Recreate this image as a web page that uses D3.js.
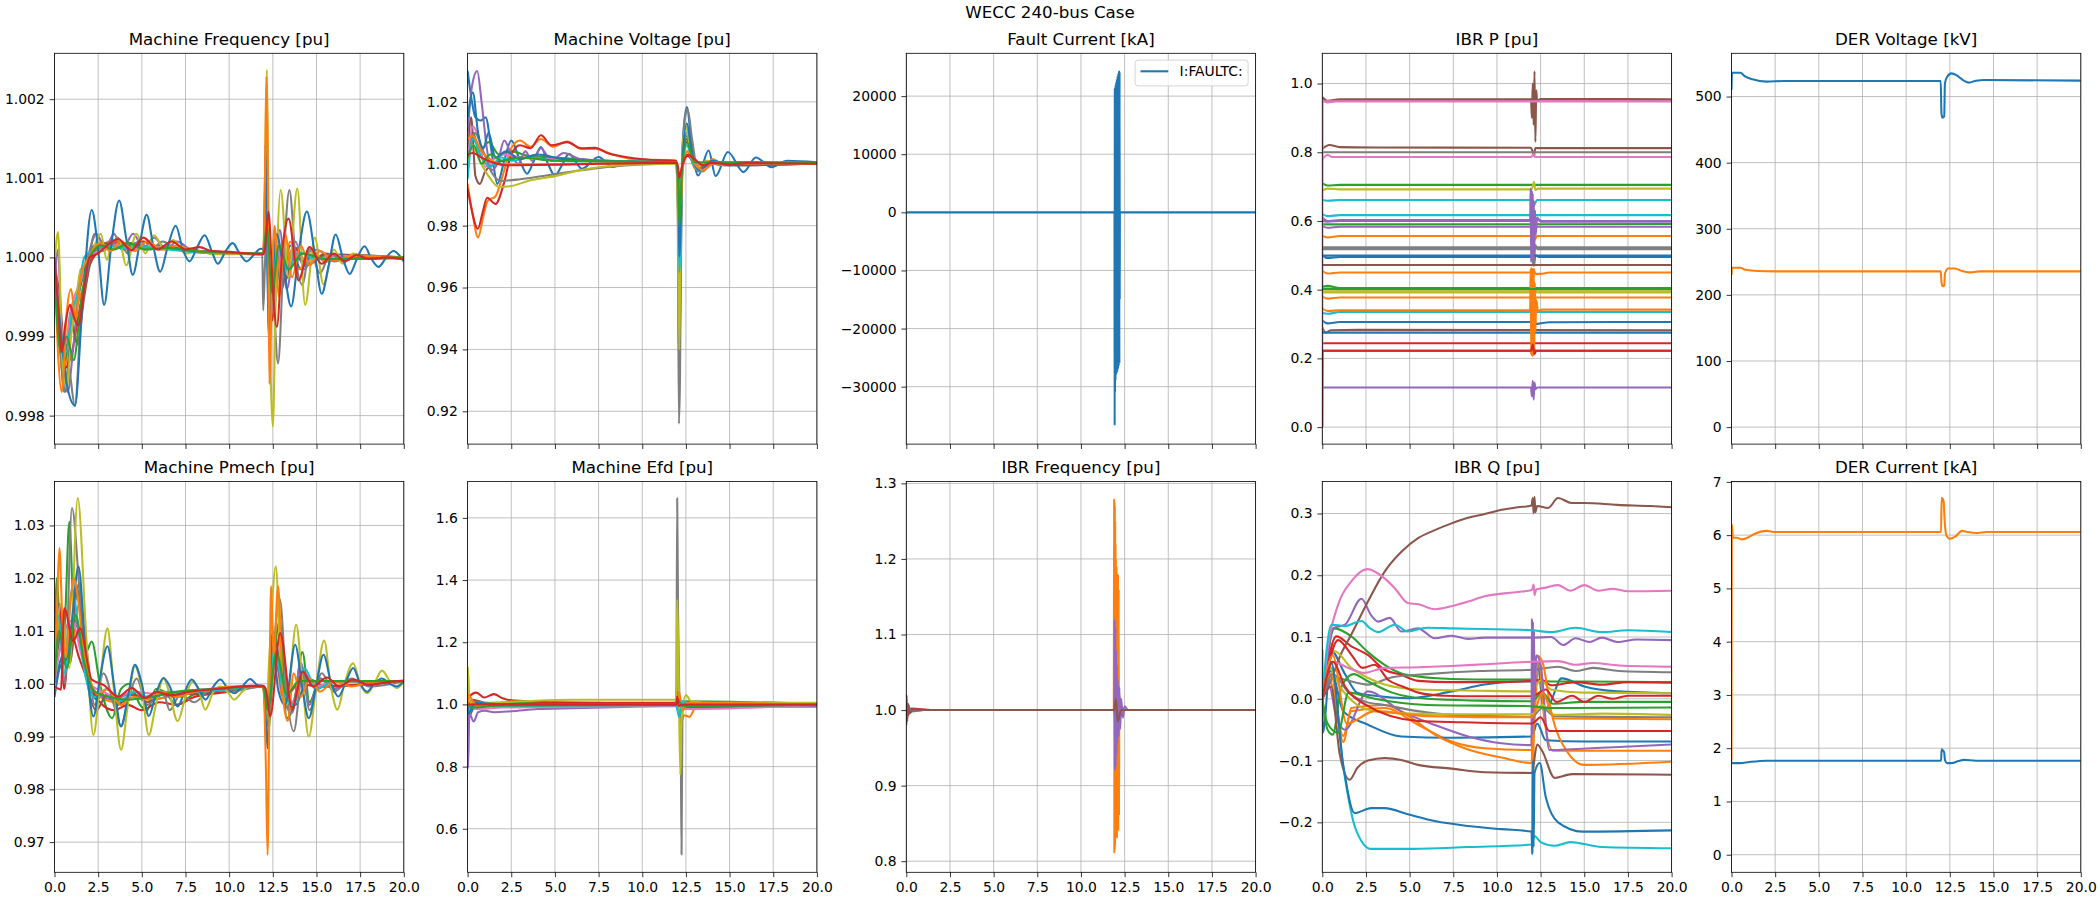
<!DOCTYPE html>
<html>
<head>
<meta charset="utf-8">
<script src="https://cdn.jsdelivr.net/npm/d3@7"></script>
<style>
  body { margin: 0; background: #fff; }
  svg { display: block; }
  text { font-family: "DejaVu Sans", sans-serif; fill: #000; }
</style>
</head>
<body>
<svg id="fig" width="2100" height="900"></svg>
<script>
// ---- data: every series is a list of [time s, value] pairs ----
const timeTicks = [0, 2.5, 5, 7.5, 10, 12.5, 15, 17.5, 20];

const machineFrequency = [
  [[0,0.99975],[0.3,0.99890],[0.6,0.99830],[0.9,0.99900],[1.3,0.99945],[1.8,0.99990],[2.3,1.00015],[2.8,1.00008],[3.3,1.00020],[3.9,1.00010],[4.5,1.00018],[5.2,1.00010],[6,1.00015],[7,1.00010],[8.5,1.00007],[10,1.00005],[11.95,1.00005],[12.1,1.00040],[12.3,0.99900],[12.6,1.00020],[13,0.99960],[13.5,1.00015],[14.1,0.99985],[14.8,1.00005],[15.5,0.99995],[17,1.00002],[20,1.00000]],
  [[0,1.00000],[0.25,0.99910],[0.5,0.99850],[0.8,0.99890],[1.2,0.99930],[1.6,0.99960],[2,0.99995],[2.6,1.00012],[3.4,1.00022],[4.2,1.00010],[5,1.00020],[6,1.00012],[7.2,1.00012],[9,1.00006],[11.95,1.00004],[12.1,1.00060],[12.35,0.99940],[12.6,1.00030],[13,0.99970],[13.5,1.00020],[14,0.99985],[14.7,1.00008],[15.5,0.99995],[17,1.00000],[20,0.99998]],
  [[0,1.00000],[0.3,0.99920],[0.6,0.99870],[0.9,0.99930],[1.3,0.99950],[1.7,0.99985],[2.3,1.00008],[3,1.00015],[3.8,1.00012],[4.6,1.00015],[5.5,1.00012],[6.5,1.00012],[8,1.00008],[10,1.00005],[11.95,1.00004],[12.15,1.00030],[12.4,0.99960],[12.7,1.00015],[13.1,0.99980],[13.6,1.00010],[14.3,0.99992],[15.5,1.00002],[20,1.00000]],
  [[0,1.00000],[0.3,0.99900],[0.6,0.99860],[1,0.99880],[1.4,0.99930],[2,0.99990],[2.8,1.00012],[3.5,1.00020],[4.3,1.00012],[5.1,1.00020],[6,1.00010],[7,1.00012],[9,1.00006],[11.95,1.00005],[12.15,1.00045],[12.45,0.99920],[12.8,1.00010],[13.3,0.99975],[13.8,1.00012],[14.5,0.99990],[15.5,1.00005],[17,0.99998],[20,1.00000]],
  [[0,0.99960],[0.2,1.00010],[0.45,0.99870],[0.75,0.99830],[1.05,0.99880],[1.4,0.99960],[1.9,1.00000],[2.4,1.00030],[2.9,1.00010],[3.4,1.00030],[3.9,1.00010],[4.5,1.00030],[5.1,1.00012],[5.7,1.00025],[6.4,1.00010],[7,1.00020],[8,1.00008],[9,1.00008],[10.5,1.00005],[11.95,1.00005],[12.1,1.00070],[12.3,0.99990],[12.55,0.99930],[12.9,1.00035],[13.3,0.99960],[13.8,1.00020],[14.3,0.99985],[15,1.00010],[16,0.99995],[17.5,1.00002],[20,0.99998]],
  [[0,0.99990],[0.3,0.99950],[0.6,0.99880],[0.95,0.99920],[1.3,0.99890],[1.7,0.99950],[2.2,1.00005],[2.8,1.00018],[3.5,1.00015],[4.3,1.00018],[5.2,1.00012],[6.3,1.00014],[8,1.00007],[10,1.00005],[11.95,1.00005],[12.1,1.00035],[12.4,0.99950],[12.75,1.00020],[13.2,0.99970],[13.7,1.00012],[14.4,0.99992],[15.5,1.00004],[20,1.00000]],
  [[0,1.00000],[0.3,0.99930],[0.6,0.99890],[1,0.99940],[1.5,0.99970],[2,1.00000],[2.7,1.00010],[3.5,1.00016],[4.5,1.00010],[5.5,1.00014],[7,1.00010],[9,1.00006],[11.95,1.00004],[12.1,1.00050],[12.35,0.99930],[12.7,1.00025],[13.1,0.99975],[13.6,1.00010],[14.5,0.99995],[16,1.00002],[20,1.00000]],
  [[0,0.99990],[0.3,0.99900],[0.55,0.99830],[0.8,0.99860],[1.17,0.99812],[1.5,0.99920],[1.9,0.99985],[2.3,1.00030],[2.7,1.00020],[3.1,1.00010],[3.6,1.00025],[4.2,1.00005],[4.8,1.00020],[5.5,1.00010],[6.2,1.00020],[7,1.00010],[8,1.00008],[9,1.00006],[10,1.00005],[11.9,1.00005],[11.95,0.99933],[12.05,0.99990],[12.15,1.00050],[12.3,0.99980],[12.5,0.99960],[12.8,0.99866],[13.1,0.99990],[13.45,1.00085],[13.8,1.00000],[14.2,0.99965],[14.6,1.00010],[15.2,0.99980],[15.8,1.00005],[16.5,0.99995],[17.5,1.00002],[20,1.00000]],
  [[0,0.99990],[0.2,1.00032],[0.45,0.99870],[0.7,0.99835],[0.95,0.99900],[1.2,0.99940],[1.5,0.99985],[1.8,0.99990],[2.2,1.00010],[2.65,1.00030],[3,0.99997],[3.3,1.00020],[3.7,1.00022],[4.1,0.99990],[4.7,1.00030],[5.2,1.00005],[5.7,1.00028],[6.3,1.00010],[6.8,1.00022],[7.5,1.00005],[8.3,1.00008],[9,1.00004],[11.95,1.00005],[12.05,1.00080],[12.16,1.00237],[12.25,1.00050],[12.38,0.99850],[12.5,0.99786],[12.65,0.99930],[12.95,1.00085],[13.4,0.99975],[13.9,1.00087],[14.35,0.99940],[14.9,1.00025],[15.4,0.99966],[16,1.00010],[16.5,0.99992],[17.1,1.00005],[18,0.99999],[20,1.00000]],
  [[0,0.99990],[0.3,0.99920],[0.65,0.99880],[1,0.99930],[1.4,0.99960],[1.7,1.00000],[2.3,1.00010],[3.1,1.00015],[4,1.00012],[5,1.00013],[6.5,1.00010],[8.5,1.00006],[11.95,1.00005],[12.1,1.00030],[12.4,0.99975],[12.8,1.00015],[13.3,0.99985],[14,1.00006],[15,0.99998],[20,1.00000]],
  [[0,0.99990],[0.3,0.99920],[0.7,0.99840],[1.17,0.99813],[1.6,0.99940],[2.13,1.00060],[2.5,1.00010],[2.84,0.99940],[3.25,1.00015],[3.7,1.00072],[4.1,1.00025],[4.48,0.99978],[4.9,1.00020],[5.28,1.00054],[5.65,1.00015],[6.05,0.99982],[6.5,1.00015],[6.94,1.00040],[7.35,1.00010],[7.73,0.99995],[8.15,1.00012],[8.6,1.00028],[9,1.00008],[9.35,0.99992],[9.8,1.00008],[10.2,1.00018],[10.6,1.00005],[11,0.99995],[11.4,1.00003],[11.8,1.00011],[12,1.00010],[12.08,1.00142],[12.15,1.00080],[12.3,0.99890],[12.45,0.99960],[12.7,1.00030],[13.1,0.99990],[13.55,0.99938],[14,1.00010],[14.45,1.00058],[14.9,1.00005],[15.3,0.99954],[15.7,0.99990],[16.1,1.00029],[16.5,1.00000],[16.9,0.99979],[17.35,1.00000],[17.75,1.00014],[18.15,0.99998],[18.55,0.99988],[19,1.00000],[19.4,1.00008],[20,0.99995]],
  [[0,1.00000],[0.2,0.99880],[0.42,0.99830],[0.7,0.99930],[0.95,0.99960],[1.2,0.99920],[1.5,0.99975],[2,1.00002],[2.6,1.00018],[3.2,1.00008],[3.8,1.00020],[4.6,1.00008],[5.3,1.00020],[6.2,1.00010],[7,1.00015],[8,1.00008],[9,1.00006],[10.5,1.00005],[11.95,1.00005],[12.05,1.00100],[12.13,1.00229],[12.22,1.00090],[12.3,0.99840],[12.45,0.99960],[12.6,1.00040],[12.85,0.99950],[13.2,1.00030],[13.6,0.99975],[14.1,1.00015],[14.6,0.99990],[15.2,1.00008],[16,0.99996],[17,1.00002],[20,1.00000]],
  [[0,0.99980],[0.35,0.99880],[0.7,0.99900],[1.1,0.99870],[1.5,0.99940],[2,1.00000],[2.7,1.00015],[3.4,1.00010],[4.2,1.00018],[5.2,1.00010],[6.5,1.00012],[8,1.00008],[10,1.00006],[11.95,1.00005],[12.15,1.00040],[12.45,0.99955],[12.85,1.00015],[13.4,0.99985],[14.2,1.00005],[15.5,0.99998],[20,1.00000]],
  [[0,1.00000],[0.2,0.99940],[0.41,0.99881],[0.65,0.99920],[0.89,0.99940],[1.1,0.99925],[1.37,0.99914],[1.7,0.99960],[2,1.00000],[2.5,1.00005],[3,1.00015],[3.66,1.00023],[4.4,1.00009],[5.09,1.00025],[5.9,1.00010],[6.71,1.00020],[7.5,1.00010],[8.3,1.00013],[9,1.00008],[10,1.00007],[11,1.00005],[11.95,1.00004],[12.05,1.00010],[12.25,1.00058],[12.5,0.99960],[12.73,0.99912],[13.05,1.00010],[13.4,1.00049],[13.97,0.99971],[14.6,1.00013],[15.3,0.99992],[16,1.00005],[16.6,0.99995],[17.3,1.00003],[18,0.99998],[19,1.00000],[20,0.99998]]
];

const machineVoltage = [
  [[0,1.0300],[0.25,1.0200],[0.45,1.0150],[0.75,1.0140],[1.03,1.0150],[1.4,1.0030],[1.7,0.9935],[2.1,1.0010],[2.5,1.0075],[3,1.0010],[3.4,0.9968],[3.8,1.0010],[4.2,1.0054],[4.6,1.0000],[5,0.9962],[5.4,0.9995],[5.8,1.0032],[6.55,0.9984],[7.5,1.0022],[8.3,0.9990],[9.2,1.0010],[10.5,1.0002],[11.95,1.0005],[12.05,0.9850],[12.1,0.9350],[12.17,0.9500],[12.3,1.0050],[12.55,1.0183],[12.85,1.0050],[13.2,0.9962],[13.8,1.0043],[14.2,0.9960],[14.9,1.0038],[15.8,0.9973],[16.5,1.0020],[17.4,0.9989],[18.3,1.0010],[20,1.0005]],
  [[0,0.9935],[0.25,0.9850],[0.6,0.9762],[0.9,0.9830],[1.15,0.9880],[1.6,0.9895],[2,0.9960],[2.5,1.0050],[3,1.0075],[3.6,1.0055],[4.2,1.0080],[4.9,1.0055],[5.7,1.0072],[6.5,1.0048],[7.3,1.0048],[8.3,1.0030],[9.5,1.0015],[11.95,1.0010],[12.08,0.9950],[12.13,0.9870],[12.3,0.9990],[12.55,1.0070],[13,0.9985],[13.5,0.9975],[14,1.0015],[14.7,0.9995],[15.5,1.0005],[20,1.0002]],
  [[0,1.0050],[0.3,1.0100],[0.7,1.0040],[1.2,1.0070],[1.8,1.0030],[2.5,1.0040],[3.5,1.0025],[5,1.0020],[7,1.0012],[9,1.0008],[11.95,1.0005],[12.08,0.9900],[12.12,0.9750],[12.3,1.0000],[12.55,1.0090],[12.9,1.0020],[13.5,0.9995],[14.5,1.0005],[20,1.0002]],
  [[0,0.9920],[0.2,0.9860],[0.59,0.9790],[0.85,0.9840],[1.12,0.9890],[1.6,0.9870],[2.07,0.9935],[2.5,1.0030],[3,1.0060],[3.6,1.0050],[4.2,1.0092],[4.8,1.0060],[5.7,1.0070],[6.5,1.0050],[7.3,1.0052],[8,1.0035],[8.8,1.0024],[10.4,1.0013],[11.95,1.0010],[12.05,0.9970],[12.12,0.9920],[12.3,0.9990],[12.6,1.0025],[13,1.0000],[13.4,0.9985],[14,1.0008],[14.7,0.9995],[15.5,1.0003],[20,1.0002]],
  [[0,1.0100],[0.25,1.0250],[0.55,1.0300],[0.8,1.0200],[1.1,1.0050],[1.4,0.9980],[1.7,1.0000],[2.1,1.0075],[2.5,1.0030],[2.9,1.0000],[3.3,1.0040],[3.7,1.0010],[4.2,1.0050],[4.8,1.0010],[5.5,1.0035],[6.5,1.0015],[8,1.0010],[10,1.0005],[11.95,1.0005],[12.05,0.9950],[12.12,0.9700],[12.3,1.0020],[12.55,1.0100],[12.9,1.0010],[13.4,0.9985],[14,1.0010],[15,0.9995],[16,1.0005],[20,1.0002]],
  [[0,0.9990],[0.2,1.0150],[0.45,0.9960],[0.7,0.9935],[1,0.9975],[1.4,0.9995],[2,1.0010],[3,1.0020],[4.5,1.0015],[6,1.0010],[8,1.0008],[10,1.0005],[11.95,1.0005],[12.08,0.9800],[12.12,0.9600],[12.3,1.0000],[12.55,1.0080],[12.9,1.0000],[13.4,0.9990],[14,1.0005],[15.5,0.9995],[20,1.0001]],
  [[0,1.0000],[0.3,1.0120],[0.65,1.0080],[1,0.9990],[1.5,1.0015],[2.2,1.0030],[3,1.0020],[4.5,1.0015],[6.5,1.0010],[9,1.0006],[11.95,1.0005],[12.06,0.9880],[12.12,0.9900],[12.3,1.0000],[12.6,1.0040],[13,1.0000],[14,1.0000],[20,1.0001]],
  [[0,1.0000],[0.4,1.0100],[0.9,1.0040],[1.4,0.9970],[1.9,0.9945],[3,0.9950],[4.5,0.9962],[6,0.9975],[8,0.9990],[10,0.9998],[11.95,1.0000],[12.03,0.9850],[12.1,0.9160],[12.16,0.9300],[12.25,0.9900],[12.45,1.0150],[12.6,1.0175],[12.85,1.0080],[13.2,0.9975],[13.6,1.0010],[14.5,0.9995],[20,1.0000]],
  [[0,1.0000],[0.3,1.0060],[0.7,1.0010],[1.2,0.9960],[1.8,0.9925],[2.5,0.9928],[3.5,0.9945],[5,0.9960],[6.5,0.9980],[8,0.9992],[9.5,0.9998],[11.95,1.0000],[12.05,0.9800],[12.12,0.9400],[12.18,0.9700],[12.3,1.0050],[12.5,1.0120],[12.8,1.0030],[13.2,0.9990],[13.7,1.0010],[14.5,0.9998],[20,1.0000]],
  [[0,0.9950],[0.3,1.0080],[0.8,1.0020],[1.3,0.9990],[1.9,1.0020],[2.6,1.0010],[3.5,1.0020],[5,1.0010],[7,1.0008],[11.95,1.0005],[12.08,0.9880],[12.12,0.9650],[12.3,0.9990],[12.55,1.0060],[12.9,1.0000],[13.4,0.9975],[14.2,1.0008],[15,0.9998],[20,1.0002]],
  [[0,1.0150],[0.3,1.0230],[0.6,1.0100],[0.9,1.0050],[1.2,1.0100],[1.6,1.0020],[2.2,1.0040],[3,1.0015],[4,1.0030],[5.5,1.0015],[8,1.0008],[11.95,1.0005],[12.08,0.9900],[12.12,0.9700],[12.3,1.0010],[12.55,1.0130],[12.9,1.0010],[13.3,0.9980],[14,1.0010],[15,0.9995],[20,1.0002]],
  [[0,1.0080],[0.3,1.0090],[0.8,1.0040],[1.4,1.0010],[2,0.9998],[4,0.9998],[7,1.0000],[10,1.0003],[11.95,1.0005],[12.05,0.9950],[12.1,0.9860],[12.2,0.9870],[12.35,1.0000],[12.6,1.0040],[13,1.0000],[13.5,0.9980],[14.2,1.0005],[16,1.0000],[20,1.0000]],
  [[0,1.0020],[0.35,1.0060],[0.8,1.0000],[1.3,1.0030],[2,1.0010],[3,1.0020],[5,1.0010],[8,1.0008],[11.95,1.0005],[12.08,0.9920],[12.12,0.9800],[12.3,1.0000],[12.55,1.0070],[13,1.0005],[20,1.0002]],
  [[0,1.0030],[0.3,1.0035],[0.8,1.0020],[1.5,1.0003],[2.2,0.9995],[4,0.9996],[6,0.9998],[8,1.0000],[10,1.0002],[11.95,1.0003],[12.05,0.9990],[12.12,0.9955],[12.25,0.9985],[12.6,1.0030],[13,1.0015],[13.5,0.9995],[14,1.0003],[15,0.9998],[16,1.0002],[20,1.0000]]
];

const faultCurrent = [
  [[0,0],[11.92,0],[11.93,-36700],[11.94,21300],[11.95,-31000],[11.96,21500],[11.975,-29000],[11.99,22000],[12.0,-28000],[12.02,22500],[12.04,-27800],[12.06,23000],[12.08,-27500],[12.1,23500],[12.12,-27000],[12.14,24000],[12.16,-26500],[12.18,24400],[12.2,-26000],[12.21,24200],[12.22,-15000],[12.23,0],[20,0]]
];
const faultLegend = ["I:FAULTC:"];

const ibrP = [
  [[0,0.500],[0.3,0.492],[1,0.495],[11.95,0.495],[12.05,0.520],[12.12,0.470],[12.2,0.500],[12.4,0.495],[20,0.495]],
  [[0,0.556],[0.3,0.552],[1,0.556],[11.95,0.556],[12.05,0.570],[12.15,0.545],[12.3,0.556],[20,0.556]],
  [[0,0.710],[0.3,0.703],[1,0.705],[20,0.705]],
  [[0,0.400],[0.3,0.403],[1,0.401],[11.95,0.401],[12.1,0.395],[12.3,0.401],[20,0.401]],
  [[0,0.610],[0.3,0.600],[1,0.603],[11.95,0.603],[12.3,0.605],[12.6,0.600],[20,0.600]],
  [[0,0.810],[0.4,0.821],[1,0.815],[3,0.814],[11.95,0.813],[12.05,0.800],[12.12,0.790],[12.2,0.812],[20,0.812]],
  [[0,0.780],[0.3,0.792],[0.6,0.786],[11.95,0.786],[12.1,0.795],[12.2,0.786],[20,0.786]],
  [[0,0.800],[20,0.800]],
  [[0,0.688],[0.3,0.694],[1,0.692],[11.95,0.692],[12.05,0.700],[12.12,0.714],[12.2,0.690],[12.35,0.694],[20,0.694]],
  [[0,0.661],[0.3,0.659],[1,0.661],[11.95,0.661],[12.05,0.640],[12.15,0.648],[12.3,0.661],[20,0.661]],
  [[0,0.310],[0.3,0.302],[1,0.306],[11.95,0.306],[12.1,0.320],[12.25,0.300],[12.5,0.302],[13,0.305],[20,0.306]],
  [[0,0.455],[0.3,0.447],[1,0.450],[11.95,0.450],[12.1,0.460],[12.2,0.446],[12.5,0.446],[13,0.450],[20,0.450]],
  [[0,0.590],[20,0.591]],
  [[0,0.244],[20,0.244]],
  [[0,0.585],[0.3,0.580],[1,0.583],[20,0.583]],
  [[0,0.290],[0.2,0.275],[0.5,0.282],[2,0.283],[20,0.282]],
  [[0,0.000],[0.02,0.950],[0.3,0.945],[1,0.950],[11.95,0.950],[12.1,0.955],[12.2,0.950],[20,0.950]],
  [[0,0.523],[20,0.523]],
  [[0,0.392],[20,0.392]],
  [[0,0.620],[0.3,0.614],[1,0.617],[20,0.617]],
  [[0,0.275],[20,0.275]],
  [[0,0.380],[0.3,0.374],[1,0.377],[20,0.377]],
  [[0,0.408],[0.3,0.411],[1,0.405],[20,0.405]],
  [[0,0.000],[0.02,0.222],[11.95,0.222],[12.05,0.210],[12.12,0.228],[12.2,0.222],[20,0.222]],
  [[0,0.115],[11.95,0.115],[12.0,0.090],[12.05,0.135],[12.1,0.080],[12.15,0.130],[12.2,0.110],[12.3,0.115],[20,0.115]],
  [[0,0.960],[0.3,0.950],[1,0.954],[11.95,0.954],[12.0,0.900],[12.05,1.000],[12.1,0.880],[12.15,1.036],[12.2,0.830],[12.25,0.980],[12.3,0.950],[12.5,0.955],[20,0.954]],
  [[0,0.948],[20,0.948]],
  [[0,0.518],[11.95,0.518],[12.1,0.470],[12.2,0.530],[12.3,0.518],[20,0.518]],
  [[0,0.395],[20,0.395]],
  [[0,0.332],[0.3,0.330],[1,0.335],[11.95,0.335],[12.2,0.350],[12.3,0.335],[20,0.335]],
  [[0,0.499],[20,0.499]],
  [[0,0.345],[0.3,0.338],[1,0.340],[11.9,0.340],[11.93,0.460],[11.96,0.210],[11.99,0.465],[12.02,0.205],[12.05,0.460],[12.08,0.210],[12.11,0.450],[12.14,0.220],[12.17,0.420],[12.2,0.280],[12.25,0.370],[12.35,0.338],[12.6,0.342],[20,0.342]],
  [[0,0.402],[20,0.402]],
  [[0,0.222],[11.95,0.222],[12.05,0.240],[12.15,0.212],[12.25,0.222],[20,0.222]],
  [[0,0.600],[0.3,0.598],[1,0.600],[11.9,0.600],[11.93,0.695],[11.96,0.480],[11.99,0.690],[12.02,0.485],[12.05,0.680],[12.08,0.490],[12.11,0.660],[12.14,0.510],[12.18,0.630],[12.22,0.560],[12.3,0.610],[12.5,0.598],[20,0.598]],
  [[0,0.472],[20,0.472]]
];

const derVoltage = [
  [[0,510],[0.03,536],[0.5,536],[0.8,530],[1.2,526],[2,522.5],[3,523.5],[11.98,523.5],[12.02,475],[12.08,468],[12.18,470],[12.22,520],[12.35,530],[12.6,535],[12.9,532],[13.3,524],[13.6,521],[14,524],[14.5,525],[20,524]],
  [[0,230],[0.03,241],[0.5,241],[0.8,238],[1.5,236],[2.5,235.5],[11.98,235.5],[12.02,220],[12.08,213],[12.18,214],[12.22,232],[12.4,240],[12.8,240],[13.2,236],[13.6,234],[14.2,235.5],[20,235.5]]
];

const machinePmech = [
  [[0,1.0000],[0.3,1.0040],[0.8,1.0080],[1.3,1.0110],[1.8,1.0030],[2.4,0.9970],[3,0.9990],[3.8,0.9965],[4.6,0.9985],[5.5,0.9970],[7,0.9980],[9,0.9988],[11.95,0.9995],[12.2,0.9930],[12.6,1.0080],[13.2,0.9980],[13.8,0.9960],[14.5,1.0010],[15.5,0.9995],[20,1.0005]],
  [[0,1.0000],[0.3,1.0120],[0.9,1.0050],[1.4,1.0150],[2,1.0010],[2.6,0.9975],[3.5,0.9965],[4.5,0.9980],[5.5,0.9970],[7,0.9980],[9,0.9990],[11.95,0.9995],[12.2,0.9930],[12.5,1.0100],[13,0.9980],[13.5,0.9955],[14.2,1.0020],[15,0.9995],[20,1.0005]],
  [[0,1.0000],[0.12,1.0200],[0.4,1.0060],[0.6,1.0120],[0.85,1.0307],[1.1,1.0150],[1.4,1.0190],[1.8,1.0060],[2.13,1.0080],[2.6,1.0000],[3.3,0.9935],[3.8,0.9990],[4.3,1.0000],[4.9,0.9960],[5.3,0.9950],[5.8,0.9990],[6.3,0.9985],[7,0.9960],[8,0.9980],[9,0.9985],[10,0.9990],[11.95,0.9995],[12.2,0.9900],[12.5,1.0020],[12.9,1.0121],[13.3,0.9935],[13.7,0.9960],[14.2,1.0060],[14.6,0.9965],[15.2,1.0010],[16,0.9990],[17,1.0005],[20,1.0005]],
  [[0,1.0000],[0.3,1.0150],[0.55,0.9990],[0.9,1.0100],[1.4,1.0050],[2,1.0000],[2.6,0.9965],[3.4,0.9950],[4.2,0.9960],[5,0.9950],[6,0.9965],[7,0.9960],[8,0.9975],[10,0.9985],[11.95,0.9995],[12.2,0.9940],[12.6,1.0050],[13.2,0.9975],[14,1.0000],[15,0.9995],[20,1.0005]],
  [[0,1.0000],[0.3,1.0150],[0.8,1.0060],[1.2,1.0120],[1.6,1.0050],[2.2,0.9990],[2.8,0.9975],[3.5,0.9970],[4.2,0.9980],[5,0.9975],[6,0.9980],[7,0.9975],[8,0.9985],[9.5,0.9990],[11.95,0.9995],[12.2,0.9960],[12.6,1.0060],[13.1,0.9975],[13.6,0.9945],[14.1,1.0040],[14.6,0.9960],[15.2,1.0010],[16,0.9990],[17,1.0005],[20,1.0005]],
  [[0,1.0000],[0.4,1.0100],[0.9,1.0040],[1.3,1.0180],[1.8,1.0020],[2.4,0.9950],[3,0.9980],[3.6,0.9960],[4.5,0.9980],[5.3,0.9965],[6.5,0.9985],[8,0.9980],[10,0.9990],[11.95,0.9995],[12.2,0.9940],[12.6,1.0080],[13.1,0.9990],[13.6,0.9950],[14.2,1.0020],[15,0.9990],[16,1.0005],[20,1.0005]],
  [[0,1.0000],[0.4,1.0080],[1,1.0120],[1.5,1.0060],[2,1.0000],[2.8,0.9985],[3.5,0.9975],[4.5,0.9985],[6,0.9980],[8,0.9988],[11.95,0.9995],[12.25,0.9970],[12.7,1.0050],[13.2,0.9990],[13.7,0.9965],[14.3,1.0020],[15,0.9995],[16,1.0005],[20,1.0005]],
  [[0,1.0000],[0.3,1.0100],[0.6,1.0000],[1,1.0333],[1.5,1.0150],[1.9,1.0050],[2.3,0.9960],[2.8,1.0020],[3.4,0.9960],[3.8,0.9920],[4.3,0.9980],[4.7,1.0010],[5.3,0.9960],[6.2,0.9985],[6.6,0.9950],[7.2,0.9980],[8,0.9965],[9,0.9990],[10,0.9985],[11.95,0.9995],[12.2,0.9920],[12.5,1.0050],[12.9,1.0160],[13.3,0.9980],[13.7,0.9910],[14.2,1.0020],[14.6,0.9950],[15.3,1.0020],[16,0.9985],[17,1.0010],[18,0.9995],[20,1.0005]],
  [[0,1.0000],[0.35,1.0150],[0.85,1.0030],[1.33,1.0352],[1.8,1.0100],[2.23,0.9903],[2.6,1.0000],[3.03,1.0105],[3.4,0.9990],[3.81,0.9875],[4.2,0.9960],[4.6,1.0033],[5,0.9990],[5.4,0.9903],[5.8,0.9960],[6.24,1.0010],[6.6,0.9980],[7.05,0.9929],[7.5,0.9975],[7.9,1.0004],[8.25,0.9990],[8.63,0.9951],[9.1,0.9985],[9.5,0.9995],[9.9,0.9985],[10.3,0.9970],[10.75,0.9985],[11.2,0.9995],[11.95,0.9995],[12.1,0.9930],[12.3,1.0050],[12.67,1.0222],[13,1.0000],[13.3,0.9960],[13.84,1.0112],[14.2,1.0000],[14.56,0.9900],[15,1.0000],[15.44,1.0082],[15.8,1.0000],[16.2,0.9951],[16.6,1.0000],[17.1,1.0039],[17.5,1.0000],[17.9,0.9982],[18.3,1.0000],[18.75,1.0025],[19.2,1.0005],[19.6,0.9992],[20,1.0005]],
  [[0,1.0000],[0.2,1.0130],[0.6,1.0020],[1,1.0180],[1.4,1.0100],[1.8,1.0010],[2.3,0.9975],[3,0.9990],[3.8,0.9968],[4.6,0.9985],[5.5,0.9972],[6.5,0.9985],[8,0.9985],[11.95,0.9995],[12.25,0.9950],[12.6,1.0070],[13.1,0.9985],[13.7,0.9960],[14.3,1.0030],[15,0.9990],[16,1.0005],[20,1.0005]],
  [[0,0.9975],[0.3,1.0030],[0.7,1.0050],[1,1.0120],[1.37,1.0222],[1.8,1.0050],[2.23,0.9938],[2.6,1.0010],[3.03,1.0071],[3.4,1.0000],[3.81,0.9919],[4.2,0.9975],[4.6,1.0036],[5,1.0000],[5.4,0.9939],[5.8,0.9980],[6.24,1.0011],[6.6,0.9995],[7.05,0.9957],[7.45,0.9985],[7.86,1.0008],[8.25,0.9990],[8.65,0.9970],[9.1,0.9995],[9.5,1.0008],[9.9,0.9992],[10.3,0.9982],[10.75,0.9995],[11.2,1.0009],[11.6,0.9998],[11.95,0.9995],[12.05,0.9960],[12.2,0.9878],[12.45,1.0093],[12.8,0.9990],[13.2,0.9960],[13.78,1.0074],[14.2,0.9990],[14.56,0.9935],[15,1.0000],[15.4,1.0055],[15.85,1.0000],[16.26,0.9976],[16.7,1.0005],[17.1,1.0030],[17.5,1.0000],[17.9,0.9985],[18.3,1.0000],[18.75,1.0010],[19.2,1.0000],[19.6,0.9995],[20,1.0005]],
  [[0,0.9990],[0.15,1.0150],[0.28,1.0257],[0.45,1.0120],[0.65,1.0050],[0.9,1.0150],[1.1,1.0200],[1.35,1.0160],[1.6,1.0080],[2,1.0010],[2.5,0.9980],[3,0.9990],[3.8,0.9960],[4.5,0.9975],[5.3,0.9970],[6.2,0.9985],[7,0.9975],[8,0.9985],[9,0.9990],[10,0.9995],[11.95,0.9995],[12.1,0.9850],[12.2,0.9676],[12.3,0.9950],[12.4,1.0185],[12.55,1.0050],[12.8,1.0185],[13.1,0.9970],[13.35,0.9930],[13.7,1.0020],[14.1,0.9975],[14.6,1.0010],[15.2,0.9985],[16,1.0005],[17,0.9995],[18,1.0002],[20,1.0005]],
  [[0,1.0000],[0.25,1.0100],[0.7,1.0030],[1.2,1.0130],[1.7,1.0040],[2.3,0.9985],[3.2,0.9975],[4.2,0.9970],[5.5,0.9975],[7,0.9985],[9,0.9990],[11.95,0.9995],[12.2,0.9950],[12.7,1.0060],[13.3,0.9980],[14,1.0005],[20,1.0005]],
  [[0,0.9995],[0.37,0.9989],[0.56,1.0143],[1.08,1.0081],[1.46,1.0105],[2.13,1.0008],[2.8,0.9998],[3.66,0.9976],[4.42,0.9992],[5.18,0.9973],[5.86,0.9985],[6.62,0.9978],[7.76,0.9985],[9.3,0.9990],[11.2,0.9996],[11.95,0.9996],[12.1,0.9990],[12.35,0.9938],[12.92,1.0096],[13.6,0.9954],[14.22,1.0023],[14.8,0.9995],[15.6,1.0012],[16.3,0.9995],[17.1,1.0008],[18,0.9998],[19,1.0003],[20,1.0006]]
];

const machineEfd = [
  [[0,1.0000],[0.02,1.1000],[0.08,0.9600],[0.3,0.9850],[0.7,1.0000],[1.2,0.9950],[3,0.9980],[11.95,0.9990],[12.1,0.9700],[12.3,1.0100],[12.7,1.0000],[13.5,0.9960],[14.5,1.0000],[20,1.0000]],
  [[0,1.0000],[0.03,0.9500],[0.3,1.0100],[1,0.9950],[5,0.9980],[11.95,1.0000],[12.0,1.0850],[12.1,1.0000],[12.2,0.9400],[12.4,0.9650],[12.7,0.9600],[13.1,0.9950],[14,1.0000],[20,1.0000]],
  [[0,1.0000],[0.3,1.0100],[1,1.0000],[3,1.0050],[8,1.0030],[11.95,1.0030],[12.05,1.0400],[12.2,0.9700],[12.5,1.0100],[20,1.0020]],
  [[0,1.0000],[0.1,1.0250],[0.5,1.0380],[0.95,1.0220],[1.5,1.0330],[2,1.0200],[2.5,1.0130],[3.2,1.0110],[5,1.0070],[8,1.0055],[11.95,1.0050],[12.0,1.0260],[12.1,1.0000],[12.2,0.9900],[12.4,1.0050],[20,1.0020]],
  [[0,1.0000],[0.03,0.7950],[0.1,0.9700],[0.35,0.9450],[0.6,0.9750],[1,0.9800],[1.5,0.9750],[2.5,0.9780],[4,0.9850],[6,0.9880],[9,0.9920],[11.95,0.9950],[12.05,0.9800],[12.2,1.0100],[12.5,0.9900],[13.5,0.9920],[20,0.9930]],
  [[0,1.0000],[0.3,1.0150],[1,1.0050],[3,1.0000],[11.95,1.0000],[12.1,1.0200],[12.3,0.9900],[20,1.0000]],
  [[0,1.0000],[0.5,0.9850],[2,0.9900],[11.95,0.9960],[12.1,1.0300],[12.3,0.9850],[20,0.9980]],
  [[0,1.0000],[0.05,0.9900],[0.5,0.9950],[2,0.9970],[5,0.9980],[11.95,0.9990],[12.0,1.6630],[12.05,1.3000],[12.12,1.0500],[12.2,0.9000],[12.25,0.5170],[12.3,0.9800],[12.5,1.0050],[13,0.9980],[14,0.9990],[20,0.9990]],
  [[0,1.0000],[0.02,1.1200],[0.1,1.0100],[0.5,1.0050],[3,1.0100],[6,1.0150],[11.95,1.0150],[12.0,1.3370],[12.08,1.1000],[12.18,0.7740],[12.25,0.9500],[12.5,1.0300],[12.8,1.0100],[14,1.0050],[20,1.0050]],
  [[0,1.0000],[0.3,0.9900],[1,0.9950],[11.95,0.9980],[12.1,0.9600],[12.3,1.0100],[13,0.9980],[20,0.9990]],
  [[0,1.0000],[0.05,0.9700],[0.4,1.0050],[2,1.0000],[11.95,1.0000],[12.1,1.0150],[12.3,0.9950],[20,1.0000]],
  [[0,1.0000],[0.05,1.0300],[0.5,0.9950],[2,0.9980],[11.95,0.9990],[12.1,1.0400],[12.3,0.9800],[12.6,1.0050],[20,1.0000]],
  [[0,1.0000],[0.3,0.9900],[2,0.9970],[11.95,0.9980],[12.1,1.0100],[12.3,0.9950],[20,0.9980]],
  [[0,1.0000],[11.95,1.0000],[12.0,1.0250],[12.1,0.9950],[12.3,1.0000],[20,1.0000]]
];

const ibrFrequency = [
  [[0,1.0000],[0.05,0.9950],[0.3,1.0010],[1,1.0000],[11.9,1.0000],[12.0,1.0200],[12.05,0.9800],[12.1,1.0100],[12.2,0.9950],[12.4,1.0000],[20,1.0000]],
  [[0,1.0000],[0.05,1.0050],[0.2,0.9990],[0.5,1.0000],[11.88,1.0000],[11.9,1.2800],[11.91,0.8100],[11.92,1.2750],[11.93,0.8150],[11.94,1.2700],[11.95,0.8200],[11.96,1.2500],[11.97,0.8300],[11.98,1.2200],[11.99,0.8350],[12.0,1.2000],[12.02,0.8400],[12.04,1.1900],[12.06,0.8300],[12.08,1.1800],[12.1,0.8400],[12.12,1.1800],[12.14,0.8400],[12.16,1.1600],[12.18,0.8600],[12.2,1.0200],[12.25,0.9900],[12.3,1.0050],[12.5,1.0000],[20,1.0000]],
  [[0,1.0000],[0.05,1.0080],[0.3,0.9980],[1,1.0000],[11.9,1.0000],[12.0,0.9800],[12.05,1.0200],[12.1,0.9900],[12.3,1.0000],[20,1.0000]],
  [[0,1.0000],[0.05,0.9920],[0.3,1.0020],[1.5,1.0000],[11.9,1.0000],[12.0,1.0300],[12.05,0.9700],[12.1,1.0200],[12.2,0.9900],[12.4,1.0000],[20,1.0000]],
  [[0,1.0000],[0.05,1.0040],[0.3,0.9990],[1,1.0000],[11.9,1.0000],[11.93,1.1200],[11.95,0.9200],[11.97,1.1100],[11.99,0.9250],[12.01,1.0800],[12.03,0.9400],[12.05,1.0600],[12.08,0.9550],[12.11,1.0400],[12.15,0.9650],[12.2,1.0300],[12.25,0.9750],[12.3,1.0150],[12.4,0.9900],[12.5,1.0050],[12.7,1.0000],[20,1.0000]],
  [[0,0.9800],[0.02,1.0200],[0.05,0.9850],[0.1,1.0080],[0.2,0.9960],[0.4,1.0010],[1,1.0000],[11.9,1.0000],[12.0,1.0150],[12.1,0.9850],[12.3,1.0000],[20,1.0000]]
];

const ibrQ = [
  [[0,0.080],[0.03,-0.055],[0.52,0.077],[1.3,0.040],[2,0.010],[3,0.005],[4.9,0.001],[7.4,0.012],[9.3,0.023],[11.2,0.028],[12,0.028],[12.3,0.060],[12.7,-0.020],[13,-0.010],[13.7,0.033],[15,0.020],[16.9,0.012],[20,0.009]],
  [[0,0.000],[0.4,0.030],[1.2,-0.060],[1.66,-0.020],[3.57,-0.015],[5.48,-0.042],[7.4,-0.069],[9.3,-0.080],[12,-0.083],[12.4,0.060],[12.7,-0.030],[13.2,-0.084],[20,-0.084]],
  [[0,0.000],[0.7,0.114],[1.66,0.101],[2.6,0.076],[3.57,0.055],[4.53,0.041],[5.48,0.036],[7.4,0.032],[10,0.031],[12,0.031],[13.1,0.028],[15,0.028],[20,0.027]],
  [[0,0.000],[0.8,0.101],[1.66,0.085],[2.6,0.071],[3.57,0.047],[4.5,0.039],[5.48,0.029],[7.4,0.027],[10,0.027],[12,0.029],[12.6,0.030],[13.1,0.022],[14.5,0.027],[16,0.023],[17.5,0.027],[20,0.026]],
  [[0,0.000],[0.3,0.070],[0.61,0.114],[1.3,0.120],[2.24,0.162],[2.8,0.135],[3.19,0.125],[3.86,0.131],[4.53,0.109],[5.48,0.114],[6.44,0.098],[7.4,0.102],[8.35,0.097],[9.3,0.099],[11.2,0.099],[12,0.099],[13.1,0.100],[13.8,0.087],[14.5,0.098],[15.3,0.092],[16,0.099],[16.9,0.092],[18,0.096],[20,0.095]],
  [[0,0.000],[0.5,0.030],[1,0.068],[1.66,0.104],[2.62,0.158],[3.57,0.206],[4.53,0.238],[5.48,0.260],[6.44,0.273],[7.4,0.284],[8.35,0.293],[9.3,0.299],[10.26,0.306],[11.2,0.310],[11.98,0.313],[12.05,0.325],[12.1,0.300],[12.15,0.327],[12.2,0.302],[12.3,0.312],[12.93,0.309],[13.5,0.325],[14.27,0.317],[15,0.317],[16.9,0.314],[18.8,0.312],[20,0.310]],
  [[0,0.000],[0.3,0.080],[0.9,0.152],[1.66,0.190],[2.58,0.210],[3.57,0.195],[4.15,0.179],[4.9,0.155],[5.5,0.153],[6.44,0.145],[7.4,0.150],[8.3,0.157],[9.3,0.166],[11.2,0.173],[12,0.176],[12.1,0.185],[12.15,0.168],[12.25,0.177],[12.8,0.180],[13.5,0.184],[14.2,0.175],[15,0.184],[15.8,0.175],[16.6,0.178],[17.5,0.174],[20,0.175]],
  [[0,0.000],[0.7,0.035],[1.4,0.030],[2.6,0.023],[4,0.035],[6,0.040],[9,0.045],[12,0.047],[13.5,0.052],[14.5,0.045],[15.5,0.050],[17,0.045],[20,0.043]],
  [[0,0.000],[0.7,0.077],[1.66,0.050],[2.6,0.034],[3.57,0.023],[5.48,0.015],[9,0.013],[12,0.012],[12.5,0.030],[13.1,0.015],[15,0.010],[20,0.009]],
  [[0,0.000],[0.5,0.050],[1.2,-0.110],[1.9,-0.210],[2.8,-0.243],[5.2,-0.243],[8.35,-0.240],[12,-0.236],[12.15,-0.222],[12.5,-0.232],[13.3,-0.238],[14.2,-0.232],[16,-0.240],[20,-0.242]],
  [[0,0.000],[0.5,0.045],[1.2,-0.020],[2.62,-0.042],[4.53,-0.061],[7.4,-0.063],[12,-0.061],[12.3,-0.040],[12.8,-0.067],[15,-0.069],[20,-0.069]],
  [[0,0.000],[0.5,0.040],[1.2,-0.070],[1.66,-0.015],[3.57,-0.010],[5.1,-0.031],[6.44,-0.058],[8.35,-0.082],[10.26,-0.095],[12,-0.104],[12.02,0.060],[12.04,-0.250],[12.06,0.050],[12.08,-0.200],[12.12,0.060],[12.3,0.070],[12.6,0.060],[13.1,-0.020],[14,-0.085],[15,-0.107],[20,-0.102]],
  [[0,0.000],[0.3,-0.050],[0.6,-0.058],[1.1,0.020],[1.8,0.040],[2.5,0.030],[4,0.010],[6,0.000],[9,-0.003],[12,-0.004],[12.6,0.010],[13.2,-0.008],[15,-0.005],[20,-0.005]],
  [[0,0.000],[0.9,0.095],[1.7,0.070],[2.3,0.050],[3,0.055],[3.8,0.030],[4.6,0.020],[5.5,0.010],[7,0.005],[9,0.004],[12,0.004],[12.8,0.015],[13.4,-0.005],[14.3,0.005],[15,-0.005],[15.8,0.005],[16.6,0.000],[17.5,0.005],[20,0.005]],
  [[0,0.000],[0.4,0.020],[0.8,-0.030],[1.3,-0.050],[2.6,0.012],[4.5,-0.020],[6.4,-0.042],[8.35,-0.061],[10.26,-0.072],[11.98,-0.075],[12.0,0.130],[12.03,-0.058],[12.06,0.125],[12.09,-0.040],[12.12,0.110],[12.16,0.000],[12.25,0.070],[12.5,0.055],[13,-0.083],[14,-0.082],[17,-0.078],[20,-0.074]],
  [[0,0.000],[0.5,0.020],[1,-0.090],[1.57,-0.131],[2,-0.112],[2.62,-0.100],[3.57,-0.096],[4.53,-0.099],[5.48,-0.107],[7.4,-0.113],[9.3,-0.119],[12,-0.120],[12.3,-0.074],[12.6,-0.085],[13.3,-0.128],[14.3,-0.122],[20,-0.123]],
  [[0,0.000],[0.6,0.060],[1.5,0.050],[2.4,0.042],[3.57,0.050],[5.5,0.051],[7.4,0.053],[9.3,0.056],[12,0.060],[13.5,0.061],[14.5,0.055],[15.5,0.058],[17,0.054],[20,0.052]],
  [[0,0.000],[0.6,0.040],[1.5,0.010],[2.5,-0.005],[3.57,-0.010],[5.48,-0.020],[7.4,-0.026],[12,-0.029],[12.6,-0.015],[13.3,-0.028],[20,-0.030]],
  [[0,0.000],[0.4,0.050],[1,0.020],[2,-0.010],[3,-0.020],[5,-0.024],[8,-0.025],[12,-0.025],[12.6,-0.010],[13.3,-0.026],[16,-0.024],[20,-0.026]],
  [[0,0.000],[0.52,0.120],[1.3,0.118],[2.24,0.126],[2.7,0.115],[3.19,0.108],[4.15,0.120],[4.9,0.109],[6,0.115],[7.5,0.114],[9.3,0.113],[12,0.111],[13.1,0.108],[14.5,0.115],[16,0.108],[17.5,0.111],[20,0.108]],
  [[0,0.000],[0.5,0.060],[1.2,-0.107],[1.85,-0.185],[2.8,-0.177],[3.57,-0.177],[4.9,-0.187],[6.44,-0.198],[8.35,-0.206],[10.26,-0.211],[11.98,-0.215],[12.02,-0.252],[12.06,-0.100],[12.1,-0.240],[12.15,-0.120],[12.45,-0.104],[12.8,-0.160],[13.5,-0.200],[14.9,-0.215],[20,-0.213]],
  [[0,0.000],[0.6,0.070],[1.4,-0.040],[3,-0.020],[6,-0.028],[12,-0.030],[12.6,0.010],[13.3,-0.032],[20,-0.033]],
  [[0,0.000],[0.3,-0.040],[0.9,-0.055],[1.5,0.010],[3,0.000],[6,-0.010],[12,-0.012],[13,-0.015],[20,-0.014]],
  [[0,0.000],[0.6,0.060],[1.3,0.020],[2.5,-0.010],[5.48,-0.036],[8,-0.038],[12,-0.040],[12.5,-0.030],[13,-0.052],[20,-0.052]]
];

const derCurrent = [
  [[0,1.72],[0.5,1.72],[1,1.74],[2,1.765],[12,1.765],[12.03,1.98],[12.1,1.96],[12.18,1.92],[12.22,1.78],[12.35,1.72],[12.6,1.72],[13,1.76],[13.3,1.78],[14,1.765],[20,1.765]],
  [[0,1.75],[0.02,6.2],[0.08,5.95],[0.3,5.95],[0.6,5.92],[0.9,5.95],[1.3,6.02],[2,6.08],[2.5,6.06],[12,6.06],[12.03,6.7],[12.1,6.68],[12.15,6.62],[12.2,6.3],[12.3,6.0],[12.5,5.93],[12.8,5.97],[13.2,6.08],[13.5,6.06],[14,6.04],[14.6,6.06],[20,6.06]]
];

// ---- figure ----
(function () {
  const tab10 = ["#1f77b4", "#ff7f0e", "#2ca02c", "#d62728", "#9467bd",
    "#8c564b", "#e377c2", "#7f7f7f", "#bcbd22", "#17becf"];

  const colLeft = [54.5, 467.6, 906.3, 1322.3, 1731.5];
  const rowTop = [53.3, 481.5];
  const pw = 349.3, ph = 390.8;

  const panels = [
    { title: "Machine Frequency [pu]", data: machineFrequency, lim: [0.99764, 1.00258], ticks: [0.998, 0.999, 1.000, 1.001, 1.002], fmt: ".3f" },
    { title: "Machine Voltage [pu]", data: machineVoltage, lim: [0.9094, 1.0357], ticks: [0.92, 0.94, 0.96, 0.98, 1.00, 1.02], fmt: ".2f" },
    { title: "Fault Current [kA]", data: faultCurrent, lim: [-39880, 27367], ticks: [-30000, -20000, -10000, 0, 10000, 20000], fmt: "d", legend: faultLegend },
    { title: "IBR P [pu]", data: ibrP, lim: [-0.0495, 1.088], ticks: [0, 0.2, 0.4, 0.6, 0.8, 1.0], fmt: ".1f" },
    { title: "DER Voltage [kV]", data: derVoltage, lim: [-25.7, 565.4], ticks: [0, 100, 200, 300, 400, 500], fmt: "d" },
    { title: "Machine Pmech [pu]", data: machinePmech, lim: [0.96428, 1.03833], ticks: [0.97, 0.98, 0.99, 1.00, 1.01, 1.02, 1.03], fmt: ".2f" },
    { title: "Machine Efd [pu]", data: machineEfd, lim: [0.460, 1.717], ticks: [0.6, 0.8, 1.0, 1.2, 1.4, 1.6], fmt: ".1f" },
    { title: "IBR Frequency [pu]", data: ibrFrequency, lim: [0.7853, 1.3025], ticks: [0.8, 0.9, 1.0, 1.1, 1.2, 1.3], fmt: ".1f" },
    { title: "IBR Q [pu]", data: ibrQ, lim: [-0.2809, 0.3518], ticks: [-0.2, -0.1, 0, 0.1, 0.2, 0.3], fmt: ".1f" },
    { title: "DER Current [kA]", data: derCurrent, lim: [-0.33, 7.007], ticks: [0, 1, 2, 3, 4, 5, 6, 7], fmt: "d" }
  ];

  const svg = d3.select("#fig");
  svg.append("rect").attr("width", 2100).attr("height", 900).attr("fill", "#fff");

  svg.append("text")
    .attr("x", 1050).attr("y", 18)
    .attr("text-anchor", "middle")
    .attr("font-size", "16.7px")
    .text("WECC 240-bus Case");

  panels.forEach((p, i) => {
    const row = Math.floor(i / 5), col = i % 5;
    const g = svg.append("g")
      .attr("transform", `translate(${colLeft[col]},${rowTop[row]})`);

    const x = d3.scaleLinear().domain([0, 20]).range([0, pw]);
    const y = d3.scaleLinear().domain(p.lim).range([ph, 0]);

    // grid
    g.append("g").selectAll("line").data(timeTicks).join("line")
      .attr("x1", (d) => x(d)).attr("x2", (d) => x(d))
      .attr("y1", 0).attr("y2", ph)
      .attr("stroke", "#b0b0b0").attr("stroke-width", 0.8);
    g.append("g").selectAll("line").data(p.ticks).join("line")
      .attr("x1", 0).attr("x2", pw)
      .attr("y1", (d) => y(d)).attr("y2", (d) => y(d))
      .attr("stroke", "#b0b0b0").attr("stroke-width", 0.8);

    // lines
    g.append("clipPath").attr("id", "clip" + i)
      .append("rect").attr("width", pw).attr("height", ph);
    const line = d3.line()
      .x((d) => x(d[0]))
      .y((d) => y(d[1]))
      .curve(d3.curveMonotoneX);
    g.append("g").attr("clip-path", `url(#clip${i})`)
      .selectAll("path").data(p.data).join("path")
      .attr("d", line)
      .attr("fill", "none")
      .attr("stroke", (d, j) => tab10[j % 10])
      .attr("stroke-width", 2.08)
      .attr("stroke-linejoin", "round");

    // axes
    const yAxis = d3.axisLeft(y).tickValues(p.ticks)
      .tickFormat(d3.format(p.fmt)).tickSize(4.9).tickPadding(4.9);
    const xAxis = d3.axisBottom(x).tickValues(timeTicks)
      .tickFormat(row === 1 ? d3.format(".1f") : () => "")
      .tickSize(4.9).tickPadding(4.9);
    [g.append("g").call(yAxis),
     g.append("g").attr("transform", `translate(0,${ph})`).call(xAxis)]
      .forEach((a) => {
        a.select(".domain").remove();
        a.selectAll(".tick line").attr("stroke", "#000").attr("stroke-width", 0.8);
        a.selectAll(".tick text").attr("font-size", "13.9px")
          .attr("font-family", "DejaVu Sans").attr("fill", "#000");
      });

    g.append("rect").attr("width", pw).attr("height", ph)
      .attr("fill", "none").attr("stroke", "#000").attr("stroke-width", 0.8);

    g.append("text")
      .attr("x", pw / 2).attr("y", -8.5)
      .attr("text-anchor", "middle")
      .attr("font-size", "16.7px")
      .text(p.title);

    if (p.legend) {
      const lg = g.append("g").attr("transform", `translate(${pw - 120.5},${6.8})`);
      lg.append("rect").attr("width", 113).attr("height", 25.8).attr("rx", 3)
        .attr("fill", "#fff").attr("fill-opacity", 0.8)
        .attr("stroke", "#cccccc").attr("stroke-width", 0.8);
      lg.append("line").attr("x1", 5.4).attr("x2", 33.2)
        .attr("y1", 11.2).attr("y2", 11.2)
        .attr("stroke", tab10[0]).attr("stroke-width", 2.08);
      lg.append("text").attr("x", 44.5).attr("y", 16.2)
        .attr("font-size", "13.9px").text(p.legend[0]);
    }
  });
})();
</script>
</body>
</html>
